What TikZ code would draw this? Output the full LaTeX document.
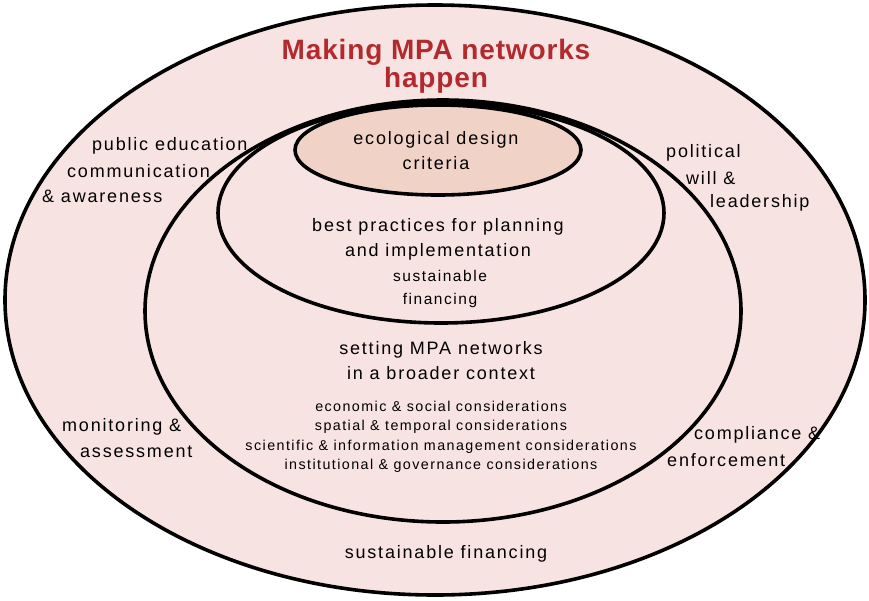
\documentclass[tikz,border=0pt]{standalone}
\usepackage{fontspec}
\setmainfont{Liberation Sans}[LetterSpace=10]
\newfontfamily\titlefont{Liberation Sans}[LetterSpace=3]
\usepackage{tikz}
\definecolor{ringpink}{HTML}{F7E4E2}
\definecolor{corefill}{HTML}{F0D3C6}
\definecolor{titlered}{HTML}{B22A2E}

\begin{document}
\begin{tikzpicture}[x=1pt, y=-1pt, every node/.style={inner sep=0pt, align=center},
    ring/.style={draw=black, line width=3.6pt},
    lbl/.style={font=\fontsize{18}{25}\selectfont},
    sublbl/.style={font=\fontsize{15.5}{23}\selectfont},
    small/.style={font=\fontsize{14.3}{19.5}\selectfont},
    titletxt/.style={font=\titlefont\fontsize{28}{28}\selectfont\bfseries, text=titlered}]
        \useasboundingbox (0,0) rectangle (869,600);
        \draw[ring, fill=ringpink] (435,300) ellipse (430 and 295);
        \draw[ring, fill=ringpink] (443,311) ellipse (298 and 211);
        \draw[ring, fill=ringpink] (441,213) ellipse (223 and 110);
        \draw[ring, fill=corefill] (438,150) ellipse (143 and 45);
        \node[titletxt] (title) at (436,66) {Making MPA networks\\happen};
        \node[lbl] (design) at (436,151) {ecological design\\criteria};
        \node[lbl] (practice) at (438,239) {best practices for planning\\and implementation};
        \node[sublbl] (finin) at (440,289) {sustainable\\financing};
        \node[lbl] (context) at (441,361) {setting MPA networks\\in a broader context};
        \node[small] (consid) at (441,437) {economic \& social considerations\\spatial \& temporal considerations\\scientific \& information management considerations\\institutional \& governance considerations};
        \node[lbl, anchor=west] (pub1) at (92,146) {public education};
        \node[lbl, anchor=west] (pub2) at (67,171) {communication};
        \node[lbl, anchor=west] (pub3) at (42,196) {\& awareness};
        \node[lbl, anchor=west] (pol1) at (666,153) {political};
        \node[lbl, anchor=west] (pol2) at (686,178) {will \&};
        \node[lbl, anchor=west] (pol3) at (710,203) {leadership};
        \node[lbl, anchor=west] (mon1) at (62,427) {monitoring \&};
        \node[lbl, anchor=west] (mon2) at (80,452) {assessment};
        \node[lbl, anchor=west] (com1) at (694,435) {compliance \&};
        \node[lbl, anchor=west] (com2) at (667,460) {enforcement};
        \node[lbl] (finout) at (446,554) {sustainable financing};
    \end{tikzpicture}
\end{document}
